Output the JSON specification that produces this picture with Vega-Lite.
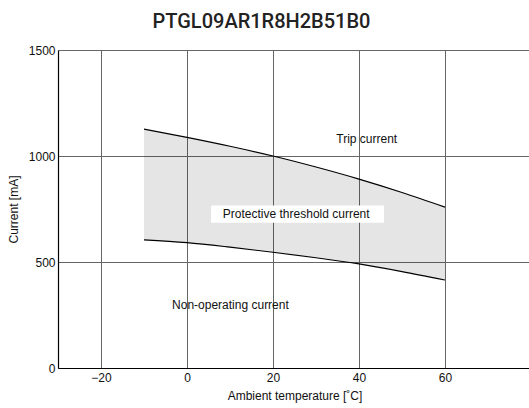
{
  "$schema": "https://vega.github.io/schema/vega-lite/v6.json",
  "autosize": "none",
  "padding": {"left": 58, "top": 50, "right": 0, "bottom": 40},
  "width": 473,
  "height": 318,
  "background": "white",
  "title": {
    "text": "PTGL09AR1R8H2B51B0",
    "font": "Roboto",
    "fontSize": 20,
    "fontWeight": 500,
    "color": "#222",
    "anchor": "middle",
    "dx": -33,
    "offset": 12
  },
  "config": {
    "font": "Liberation Sans",
    "view": {"stroke": null},
    "axis": {
      "labelFont": "Liberation Sans",
      "titleFont": "Liberation Sans",
      "labelFontSize": 12,
      "titleFontSize": 12,
      "titleFontWeight": "normal",
      "labelColor": "#111",
      "titleColor": "#111",
      "ticks": false,
      "domainColor": "#000",
      "domainWidth": 1.2,
      "gridColor": "#666",
      "gridWidth": 1,
      "gridOpacity": 1
    }
  },
  "datasets": {
    "curves": [
      {"temp": -10, "trip": 1127, "nonop": 604},
      {"temp": 0, "trip": 1088, "nonop": 591},
      {"temp": 10, "trip": 1046, "nonop": 570},
      {"temp": 20, "trip": 1000, "nonop": 546},
      {"temp": 30, "trip": 948, "nonop": 520},
      {"temp": 40, "trip": 891, "nonop": 491},
      {"temp": 50, "trip": 828, "nonop": 455},
      {"temp": 60, "trip": 759, "nonop": 415}
    ],
    "labels": [
      {"temp": 41.8, "current": 1079, "text": "Trip current"},
      {"temp": 25.4, "current": 725, "text": "Protective threshold current"},
      {"temp": 10.1, "current": 297, "text": "Non-operating current"}
    ],
    "box": [
      {"x1": 5.6, "x2": 45.8, "y1": 685, "y2": 766}
    ]
  },
  "layer": [
    {
      "data": {"name": "curves"},
      "mark": {"type": "area", "color": "#000", "opacity": 0.1},
      "encoding": {
        "x": {
          "field": "temp",
          "type": "quantitative",
          "scale": {"domain": [-30, 80], "nice": false},
          "axis": {
            "values": [-20, 0, 20, 40, 60],
            "format": "d",
            "title": "Ambient temperature [˚C]",
            "labelPadding": 4,
            "titlePadding": 7,
            "grid": true
          }
        },
        "y": {
          "field": "trip",
          "type": "quantitative",
          "scale": {"domain": [0, 1500], "nice": false},
          "axis": {
            "values": [0, 500, 1000, 1500],
            "format": "d",
            "title": "Current [mA]",
            "labelPadding": 3,
            "titlePadding": 8,
            "grid": true
          }
        },
        "y2": {"field": "nonop"}
      }
    },
    {
      "data": {"name": "curves"},
      "mark": {"type": "line", "color": "#000", "strokeWidth": 1.2, "interpolate": "monotone"},
      "encoding": {
        "x": {"field": "temp", "type": "quantitative"},
        "y": {"field": "trip", "type": "quantitative"}
      }
    },
    {
      "data": {"name": "curves"},
      "mark": {"type": "line", "color": "#000", "strokeWidth": 1.2, "interpolate": "monotone"},
      "encoding": {
        "x": {"field": "temp", "type": "quantitative"},
        "y": {"field": "nonop", "type": "quantitative"}
      }
    },
    {
      "data": {"name": "box"},
      "mark": {"type": "rect", "color": "white", "opacity": 1},
      "encoding": {
        "x": {"field": "x1", "type": "quantitative"},
        "x2": {"field": "x2"},
        "y": {"field": "y1", "type": "quantitative"},
        "y2": {"field": "y2"}
      }
    },
    {
      "data": {"name": "labels"},
      "mark": {"type": "text", "font": "Liberation Sans", "fontSize": 12, "color": "#111", "align": "center", "baseline": "middle"},
      "encoding": {
        "x": {"field": "temp", "type": "quantitative"},
        "y": {"field": "current", "type": "quantitative"},
        "text": {"field": "text"}
      }
    }
  ]
}
